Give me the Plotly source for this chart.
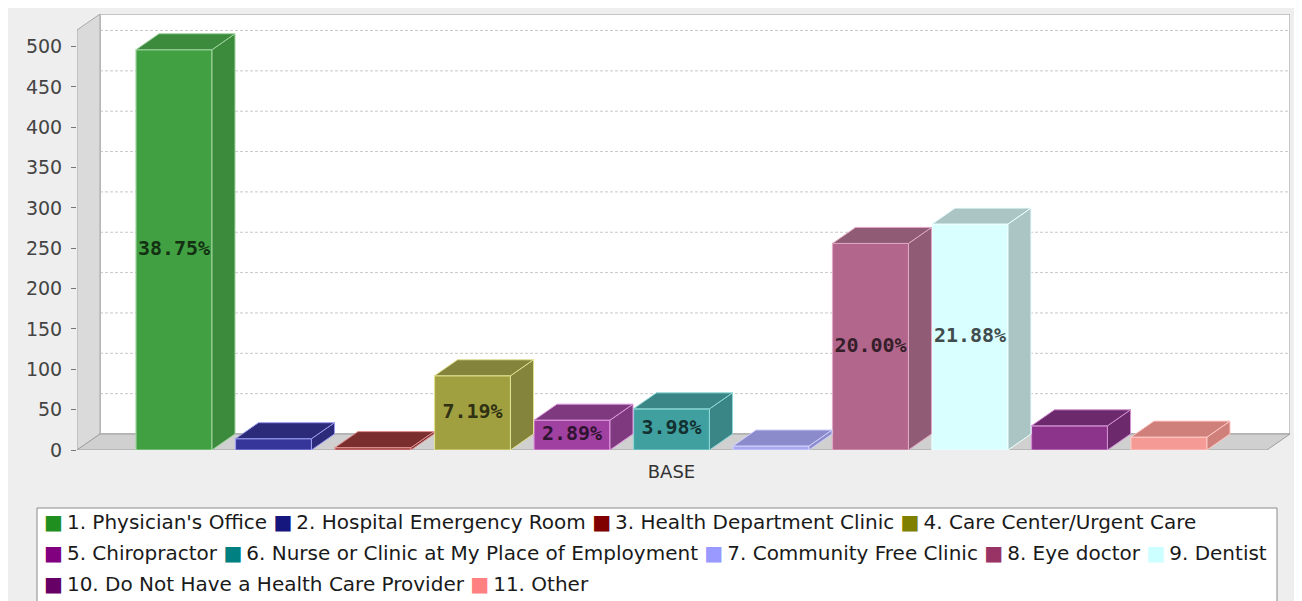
import plotly.graph_objects as go

# ---------------- data ----------------
series_names = [
    "1. Physician's Office",
    "2. Hospital Emergency Room",
    "3. Health Department Clinic",
    "4. Care Center/Urgent Care",
    "5. Chiropractor",
    "6. Nurse or Clinic at My Place of Employment",
    "7. Community Free Clinic",
    "8. Eye doctor",
    "9. Dentist",
    "10. Do Not Have a Health Care Provider",
    "11. Other",
]
values = [496, 14, 3, 92, 37, 51, 5, 256, 280, 30, 16]
category_label = "BASE"
y_tick_values = [0, 50, 100, 150, 200, 250, 300, 350, 400, 450, 500]
legend_rows = [[0, 1, 2, 3], [4, 5, 6, 7, 8], [9, 10]]

# ---------------- styles ----------------
legend_colors = ["#1f8f1f", "#16167f", "#800000", "#808000", "#800080", "#008080",
                 "#9999ff", "#993366", "#ccffff", "#660066", "#ff8080"]
front_colors = ["#41a041", "#35359a", "#963a3a", "#a0a040", "#a040a0", "#40a0a0",
                "#a9a9ee", "#b2668c", "#d9ffff", "#8c348c", "#f59a95"]
side_colors = ["#3c8a3c", "#2b2b7a", "#7a2e2e", "#84843c", "#7f3a7f", "#3a8585",
               "#8b8bcc", "#905b75", "#abc5c5", "#6c2a6c", "#cf807a"]
edge_colors = ["#9fd49f", "#9c9cee", "#e09090", "#e0e090", "#e09ae0", "#90d8d8",
               "#d0d0ff", "#e0a8c4", "#eeffff", "#d090d0", "#ffc8c4"]

OFF = 8                      # page body margin
W, H = 1302, 601
plot_left_img, plot_right_img = 77, 1290
plot_top_img, plot_bottom_img = 14, 450
L = plot_left_img - OFF
T = plot_top_img - OFF
plot_w = plot_right_img - plot_left_img
plot_h = plot_bottom_img - plot_top_img
R = W - L - plot_w
B = H - T - plot_h

px_per_slot = 99.5          # horizontal pixels per series slot
px_per_unit = 0.807         # vertical pixels per value unit
first_center_px = 174
depth_px_x, depth_px_y = 23, 16
bar_px = 76

xmin = -(first_center_px - plot_left_img) / px_per_slot
xmax = xmin + plot_w / px_per_slot
ymax = plot_h / px_per_unit
dx = depth_px_x / px_per_slot
dy = depth_px_y / px_per_unit
bw = bar_px / px_per_slot

total = sum(values)
labels = [f"{v / total * 100:.2f}%" if v / total >= 0.025 else "" for v in values]


def darken(hexc, f):
    hexc = hexc.lstrip("#")
    r, g, b = (int(hexc[k:k + 2], 16) for k in (0, 2, 4))
    return f"rgb({int(r * f)},{int(g * f)},{int(b * f)})"


def pxx(p):
    return (p - plot_left_img) / plot_w


def pxy(p):
    return (plot_bottom_img - p) / plot_h


fig = go.Figure()

xs = list(range(len(values)))

# front faces
fig.add_trace(go.Bar(
    x=xs, y=values, width=bw,
    marker=dict(color=front_colors, line=dict(color=edge_colors, width=1.2)),
    showlegend=False, hoverinfo="skip",
))

# side and top faces
for i, v in enumerate(values):
    xr = i + bw / 2
    xl = i - bw / 2
    fig.add_trace(go.Scatter(
        x=[xr, xr + dx, xr + dx, xr, xr], y=[0, dy, v + dy, v, 0],
        fill="toself", fillcolor=side_colors[i], mode="lines",
        line=dict(color=edge_colors[i], width=1), showlegend=False, hoverinfo="skip",
    ))
    fig.add_trace(go.Scatter(
        x=[xl, xr, xr + dx, xl + dx, xl], y=[v, v, v + dy, v + dy, v],
        fill="toself", fillcolor=side_colors[i], mode="lines",
        line=dict(color=edge_colors[i], width=1), showlegend=False, hoverinfo="skip",
    ))

# value labels
fig.add_trace(go.Scatter(
    x=xs, y=[v / 2 for v in values], text=labels, mode="text",
    textposition="middle center",
    textfont=dict(family="DejaVu Sans Mono", size=20, weight="bold",
                  color=[darken(c, 0.3) for c in front_colors]),
    showlegend=False, hoverinfo="skip",
))

shapes = []
# back wall
shapes.append(dict(type="rect", xref="x", yref="y", x0=xmin + dx, x1=xmax, y0=dy, y1=ymax,
                   fillcolor="white", line=dict(color="#b4b4b4", width=1.5), layer="below"))
# grid lines on the back wall
for t in y_tick_values[1:]:
    shapes.append(dict(type="line", xref="x", yref="y", x0=xmin + dx, x1=xmax, y0=t + dy, y1=t + dy,
                       line=dict(color="#c8c8c8", width=1, dash="3px,2px"), layer="below"))
# left wall
shapes.append(dict(type="path", xref="x", yref="y",
                   path=f"M {xmin},0 L {xmin},{ymax - dy} L {xmin + dx},{ymax} L {xmin + dx},{dy} Z",
                   fillcolor="#dadada", line=dict(color="#a8a8a8", width=1), layer="below"))
# floor
shapes.append(dict(type="path", xref="x", yref="y",
                   path=f"M {xmin},0 L {xmax - dx},0 L {xmax},{dy} L {xmin + dx},{dy} Z",
                   fillcolor="#d0d0d0", line=dict(color="#a0a0a0", width=1), layer="below"))
# legend box
shapes.append(dict(type="rect", xref="paper", yref="paper",
                   x0=pxx(37), x1=pxx(1277), y0=pxy(508), y1=pxy(640),
                   fillcolor="white", line=dict(color="#8a8a8a", width=1)))

annotations = []
row_y = [522, 553, 584]
for r, row in enumerate(legend_rows):
    parts = []
    for i in row:
        parts.append(f'<span style="color:{legend_colors[i]}">\u25a0</span>\u2009{series_names[i]}')
    annotations.append(dict(
        xref="paper", yref="paper", x=pxx(42), y=pxy(row_y[r]),
        xanchor="left", yanchor="middle", showarrow=False, align="left",
        text=" ".join(parts),
        font=dict(family="DejaVu Sans", size=20, color="#1a1a1a"),
    ))

fig.update_layout(
    width=W, height=H,
    margin=dict(l=L, r=R, t=T, b=B, pad=0),
    paper_bgcolor="#eeeeee", plot_bgcolor="#eeeeee",
    barmode="overlay",
    shapes=shapes, annotations=annotations,
    showlegend=False,
    xaxis=dict(range=[xmin, xmax], showgrid=False, zeroline=False, showline=False,
               tickvals=[sum(xs) / len(xs)], ticktext=[category_label], ticks="",
               tickfont=dict(family="DejaVu Sans", size=18, color="#333333"),
               ticklabelstandoff=9, fixedrange=True),
    yaxis=dict(range=[0, ymax], showgrid=False, zeroline=False, showline=False,
               tickvals=y_tick_values, ticks="outside", ticklen=5, tickcolor="#777777",
               tickfont=dict(family="DejaVu Sans", size=19, color="#444444"),
               ticklabelstandoff=5, fixedrange=True),
    font=dict(family="DejaVu Sans"),
)

fig.write_html("out.html")
